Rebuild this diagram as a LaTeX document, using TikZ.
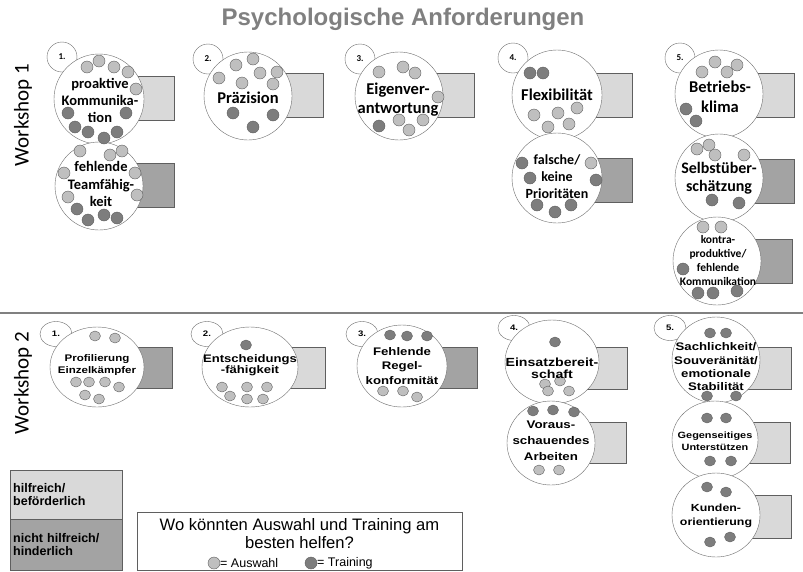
\documentclass[tikz,border=0pt]{standalone}
\usepackage{fontspec}
\setmainfont{Liberation Sans}
\newfontfamily\califont{Carlito}
\newfontfamily\widefont[FakeStretch=1.2]{Liberation Sans}
\usetikzlibrary{shapes.geometric,positioning}
\definecolor{boxlight}{RGB}{217,217,217}
\definecolor{boxdark}{RGB}{163,163,163}
\definecolor{auswahlgray}{RGB}{191,191,191}
\definecolor{traininggray}{RGB}{125,125,125}
\definecolor{edgegray}{RGB}{95,95,95}
\definecolor{circgray}{RGB}{110,110,110}
\definecolor{titlegray}{RGB}{128,128,128}

\begin{document}
\begin{tikzpicture}[
    x=1pt, y=-1pt,
    every node/.style={inner sep=0pt},
    bigcirc/.style={circle, draw=circgray, fill=white, minimum size=#1},
    bigcirc/.default=88pt,
    bigoval/.style 2 args={ellipse, draw=circgray, fill=white, minimum width=#1, minimum height=#2},
    numcirc/.style={circle, draw=circgray, fill=white, minimum size=30pt, font=\califont\bfseries\fontsize{9}{10}\selectfont},
    numoval/.style={ellipse, draw=circgray, fill=white, minimum width=32pt, minimum height=25pt, font=\widefont\bfseries\fontsize{8}{9}\selectfont},
    posbox/.style={rectangle, draw=edgegray, fill=boxlight, minimum width=75pt, minimum height=44pt, anchor=west},
    negbox/.style={rectangle, draw=edgegray, fill=boxdark, minimum width=75pt, minimum height=44pt, anchor=west},
    lightdot/.style={draw=edgegray, fill=auswahlgray},
    darkdot/.style={draw=edgegray, fill=traininggray},
    wonetext/.style 2 args={font=\califont\bfseries\fontsize{#1}{#2}\selectfont, align=center},
    wtwotext/.style 2 args={font=\widefont\bfseries\fontsize{#1}{#2}\selectfont, align=center},
    wslabel/.style={font=\califont\fontsize{21}{25}\selectfont, rotate=90},
    sepline/.style={draw=titlegray, line width=1.5pt}
]
\path[use as bounding box, fill=white] (0,0) rectangle (803,571);

% Title and workshop labels
\node[font=\bfseries\fontsize{24}{28}\selectfont, text=titlegray] (title) at (403,19) {Psychologische Anforderungen};
\node[wslabel] (ws1) at (23,115) {Workshop 1};
\node[wslabel] (ws2) at (23,383) {Workshop 2};
\coordinate (sepL) at (0,313);
\coordinate (sepR) at (803,313);
\draw[sepline] (sepL) -- (sepR);

% Workshop 1, column 1
\node[posbox] (r11) at (99,98) {};
\node[negbox] (r12) at (99,185.5) {};
\node[numcirc] (n11) at (62,57) {1.};
\node[bigcirc=90pt] (c11) at (99,99) {};
\node[bigcirc] (c12) at (99,186) {};

% Workshop 1, column 2
\node[posbox] (r21) at (248,95.5) {};
\node[numcirc] (n12) at (208,59) {2.};
\node[bigcirc] (c21) at (248,96) {};

% Workshop 1, column 3
\node[posbox] (r31) at (399,95) {};
\node[numcirc] (n13) at (360,59) {3.};
\node[bigcirc] (c31) at (399,96) {};

% Workshop 1, column 4
\node[posbox] (r41) at (557,95.5) {};
\node[negbox] (r42) at (557,180.5) {};
\node[numcirc] (n14) at (513,58) {4.};
\node[bigcirc=90pt] (c41) at (557,95) {};
\node[bigcirc=90pt] (c42) at (557,178) {};

% Workshop 1, column 5
\node[posbox] (r51) at (719,95.5) {};
\node[negbox] (r52) at (719,181.5) {};
\node[negbox] (r53) at (717,261.5) {};
\node[numcirc] (n15) at (680,58) {5.};
\node[bigcirc] (c51) at (719,94) {};
\node[bigcirc] (c52) at (719,178) {};
\node[bigcirc] (c53) at (717,261) {};

% Workshop 2, columns 1-3
\node[negbox, minimum height=41pt] (r61) at (97,367.5) {};
\node[numoval] (n21) at (56,334) {1.};
\node[bigoval={94pt}{80pt}] (e61) at (97,367) {};
\node[posbox, minimum height=41pt] (r71) at (250,368) {};
\node[numoval] (n22) at (207,334) {2.};
\node[bigoval={96pt}{80pt}] (e71) at (250,367) {};
\node[negbox, minimum height=41pt] (r81) at (402,367.5) {};
\node[numoval] (n23) at (362,334) {3.};
\node[bigoval={90pt}{82pt}] (e81) at (402,366) {};

% Workshop 2, column 4
\node[posbox, minimum height=42pt] (r91) at (552,368.5) {};
\node[posbox, minimum height=41pt] (r92) at (551,442.5) {};
\node[numoval] (n24) at (514,328) {4.};
\node[bigoval={94pt}{84pt}] (e91) at (552,362) {};
\node[bigoval={88pt}{84pt}] (e92) at (551,443) {};

% Workshop 2, column 5
\node[posbox, minimum height=42pt] (r101) at (716,368) {};
\node[posbox, minimum height=41pt] (r102) at (715,442.5) {};
\node[posbox, minimum height=43pt] (r103) at (716,516.5) {};
\node[numoval] (n25) at (670,328) {5.};
\node[bigoval={88pt}{86pt}] (e101) at (716,360) {};
\node[bigoval={86pt}{78pt}] (e102) at (715,440) {};
\node[bigoval={88pt}{84pt}] (e103) at (716,515) {};

% Auswahl / Training dots
\foreach \x/\y in {87/67,99/61,114/67,128/72,136/89, 80/151,110/155,122/151,64/173,135/173,68/197,137/195,
    236/65,253/59,219/78,260/73,277/72,242/83,273/84, 379/72,403/67,415/73,438/97,399/120,423/120,409/130,
    534/115,558/113,577/108,548/127,569/124, 591/163, 702/72,715/62,727/72,737/65,
    697/149,709/145,715/155,744/155, 703/227,721/227}
    \draw[lightdot] (\x,\y) circle[radius=6pt];
\foreach \x/\y in {68/113,126/113,75/127,88/132,104/138,117/132, 77/209,88/220,104/215,117/218,
    233/113,273/115,253/127, 379/126, 530/73,543/73, 522/163,530/178,596/180,537/205,555/212,571/205,
    686/109,696/121, 712/200,739/203, 683/269,698/293,713/293,737/291}
    \draw[darkdot] (\x,\y) circle[radius=6pt];
\foreach \x/\y in {95/336,115/338,76/382,89/382,105/382,119/387,85/395,99/399,
    222/387,247/387,267/387,230/396,247/399,263/399, 383/391,403/391,417/397,
    545/384,560/381,548/391,569/391, 539/470,559/470}
    \draw[lightdot] (\x,\y) ellipse[x radius=5.5pt, y radius=5pt];
\foreach \x/\y in {246/345, 390/335,407/336,427/336, 555/342, 533/411,553/410,574/412,
    710/333,726/333,707/396,736/396, 707/418,726/418,710/461,731/461,
    707/487,726/492,710/542,730/537}
    \draw[darkdot] (\x,\y) ellipse[x radius=5.5pt, y radius=5pt];

% Workshop 1 texts
\node[wonetext={14.5}{17}] (t11) at (100,100) {proaktive\\Kommunika-\\tion};
\node[wonetext={14.5}{17.5}] (t12) at (101,184) {fehlende\\Teamfähig-\\keit};
\node[wonetext={16.5}{19}] (t21) at (248,98) {Präzision};
\node[wonetext={16.5}{19}] (t31) at (398,100) {Eigenver-\\antwortung};
\node[wonetext={16.5}{19}] (t41) at (557,95) {Flexibilität};
\node[wonetext={14}{17}] (t42) at (557,177) {falsche/\\keine\\Prioritäten};
\node[wonetext={16.5}{20}] (t51) at (720,97) {Betriebs-\\klima};
\node[wonetext={16}{17.5}] (t52) at (719,178) {Selbstüber-\\schätzung};
\node[wonetext={11.5}{14}] (t53) at (718,261) {kontra-\\produktive/\\fehlende\\Kommunikation};

% Workshop 2 texts
\node[wtwotext={9.6}{12}] (t61) at (97,365) {Profilierung\\Einzelkämpfer};
\node[wtwotext={10.9}{11.5}] (t71) at (250,365) {Entscheidungs\\-fähigkeit};
\node[wtwotext={11}{14.5}] (t81) at (402,366) {Fehlende\\Regel-\\konformität};
\node[wtwotext={11.8}{12}] (t91) at (552,368) {Einsatzbereit-\\schaft};
\node[wtwotext={11.1}{16}] (t92) at (551,441) {Voraus-\\schauendes\\Arbeiten};
\node[wtwotext={11}{13.3}] (t101) at (716,367) {Sachlichkeit/\\Souveränität/\\emotionale\\Stabilität};
\node[wtwotext={9.1}{12}] (t102) at (715,441) {Gegenseitiges\\Unterstützen};
\node[wtwotext={10.3}{14}] (t103) at (716,516) {Kunden-\\orientierung};

% Key
\node[posbox, minimum width=112pt, minimum height=49pt, text width=106pt, align=left,
    font=\bfseries\fontsize{12.5}{13.5}\selectfont] (keypos) at (10,494.5) {hilfreich/\\beförderlich};
\node[negbox, minimum width=112pt, minimum height=51pt, text width=106pt, align=left,
    font=\bfseries\fontsize{12.5}{13.5}\selectfont] (keyneg) at (10,544.5) {nicht hilfreich/\\hinderlich};

% Question box
\node[rectangle, draw=edgegray, fill=white, minimum width=325pt, minimum height=58pt] (qbox) at (299.5,541) {};
\node[font=\fontsize{16.6}{18.5}\selectfont, align=center] (qtext) at (299.5,533.5) {Wo könnten Auswahl und Training am\\besten helfen?};
\draw[lightdot] (214,563) circle[radius=6pt];
\node[font=\fontsize{12.5}{14}\selectfont, anchor=west] (qausw) at (220,563.5) {= Auswahl};
\draw[darkdot] (311,563) circle[radius=6pt];
\node[font=\fontsize{12.5}{14}\selectfont, anchor=west] (qtrain) at (317,563.5) {= Training};

\end{tikzpicture}
\end{document}
